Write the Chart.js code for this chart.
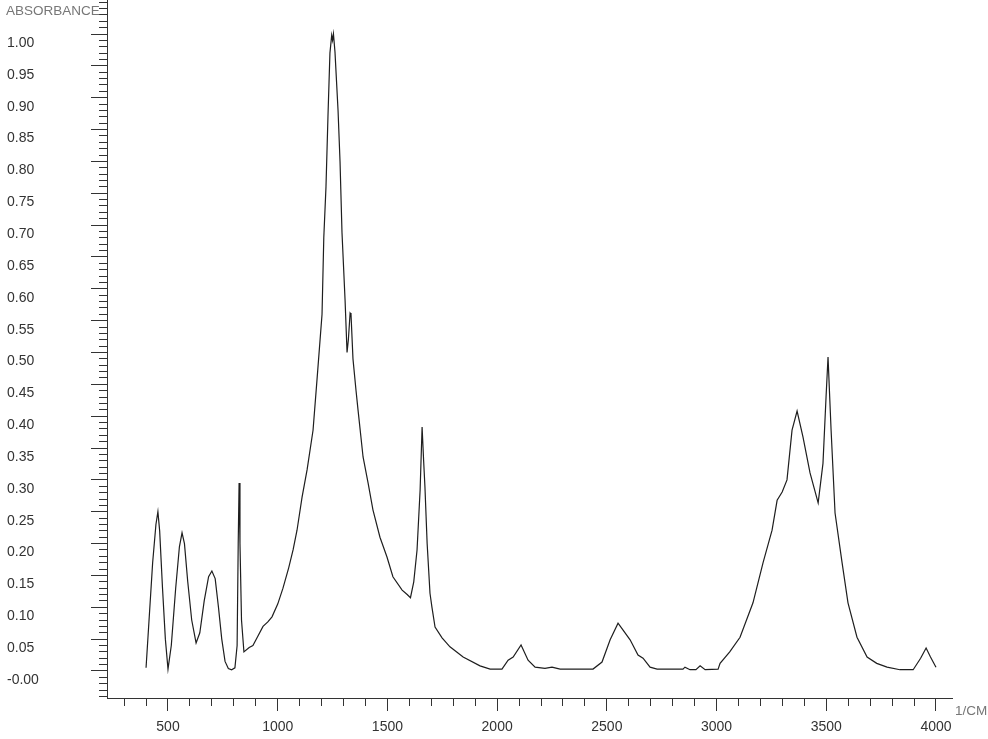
<!DOCTYPE html>
<html>
<head>
<meta charset="utf-8">
<script src="https://cdn.jsdelivr.net/npm/chart.js@4.4.1/dist/chart.umd.min.js"></script>
<style>
	html, body { margin: 0; padding: 0; background: #fff; }
	canvas { display: block; }
</style>
</head>
<body>
<canvas id="spectrum" width="988" height="739"></canvas>
<script>
var wavenumbers = [
	400, 410, 430, 445, 454, 462, 475, 488, 500, 515, 535, 552, 564, 575, 590, 608, 628, 645, 665, 685,
	700, 715, 730, 745, 760, 775, 790, 805, 815, 820, 824, 828, 835, 846, 870, 887, 910, 933, 955, 974,
	1000, 1024, 1050, 1070, 1088, 1111, 1134, 1161, 1179, 1202, 1210, 1220, 1229, 1238, 1246, 1250, 1254, 1261, 1275, 1284,
	1293, 1307, 1316, 1322, 1330, 1334, 1343, 1357, 1366, 1389, 1412, 1434, 1466, 1498, 1525, 1567, 1590, 1605, 1620, 1635,
	1649, 1658, 1665, 1671, 1681, 1694, 1703, 1717, 1749, 1785, 1845, 1922, 1968, 2022, 2050, 2073, 2109, 2141, 2173, 2218,
	2250, 2287, 2437, 2478, 2515, 2551, 2574, 2606, 2642, 2665, 2697, 2729, 2847, 2856, 2879, 2906, 2925, 2948, 3007, 3016,
	3060, 3107, 3166, 3212, 3253, 3276, 3299, 3321, 3344, 3367, 3394, 3426, 3463, 3485, 3499, 3508, 3522, 3540, 3572, 3599,
	3640, 3686, 3730, 3777, 3836, 3896, 3930, 3955, 3975, 4000
];
var absorbance = [
	0.005, 0.06, 0.17, 0.23, 0.25, 0.22, 0.13, 0.05, 0.003, 0.04, 0.13, 0.195, 0.217, 0.2, 0.14, 0.08, 0.044, 0.06, 0.11, 0.148,
	0.157, 0.145, 0.1, 0.05, 0.015, 0.004, 0.002, 0.005, 0.04, 0.2, 0.295, 0.2, 0.08, 0.03, 0.037, 0.04, 0.055, 0.07, 0.077, 0.085,
	0.105, 0.13, 0.162, 0.19, 0.221, 0.273, 0.316, 0.378, 0.457, 0.56, 0.68, 0.76, 0.87, 0.97, 0.998, 0.99, 1.0, 0.972, 0.88, 0.8,
	0.688, 0.582, 0.5, 0.52, 0.562, 0.56, 0.49, 0.44, 0.41, 0.336, 0.295, 0.253, 0.21, 0.179, 0.148, 0.127, 0.12, 0.115, 0.14, 0.19,
	0.284, 0.383, 0.33, 0.289, 0.2, 0.122, 0.1, 0.069, 0.052, 0.038, 0.022, 0.008, 0.003, 0.003, 0.017, 0.022, 0.041, 0.017, 0.006, 0.004,
	0.006, 0.003, 0.003, 0.014, 0.049, 0.075, 0.064, 0.049, 0.025, 0.02, 0.006, 0.003, 0.003, 0.006, 0.002, 0.002, 0.008, 0.002, 0.003, 0.012,
	0.03, 0.053, 0.107, 0.17, 0.221, 0.268, 0.281, 0.3, 0.378, 0.408, 0.367, 0.311, 0.264, 0.326, 0.43, 0.493, 0.378, 0.248, 0.17, 0.107,
	0.053, 0.022, 0.012, 0.006, 0.002, 0.002, 0.02, 0.036, 0.022, 0.006
];

var xMin = 222, xMax = 4073;
var yMin = -0.0424, yMax = 1.0534;
var xMajorStep = 500, xMinorStep = 100;
var yMajorStep = 0.05, yMinorStep = 0.01;
var yTopLabel = 1.0;
var yAxisLabel = 'ABSORBANCE';
var xAxisLabel = '1/CM';

var points = [];
for (var i = 0; i < wavenumbers.length; i++) {
	points.push({x: wavenumbers[i], y: absorbance[i]});
}

var fontFamily = '"Liberation Sans", Arial, sans-serif';
var axisColor = '#333';

// no extra room for the end labels, the plot area is set by hand
function noPadding(scale) {
	scale.paddingTop = 0;
	scale.paddingBottom = 0;
	scale.paddingLeft = 0;
	scale.paddingRight = 0;
}

var axisTitles = {
	id: 'axisTitles',
	afterDraw: function(chart) {
		var ctx = chart.ctx;
		ctx.save();
		ctx.fillStyle = '#777';
		ctx.font = '13.5px ' + fontFamily;
		ctx.textBaseline = 'alphabetic';
		ctx.textAlign = 'left';
		ctx.fillText(yAxisLabel, 6, 15);
		ctx.fillText(xAxisLabel, 955, 715);
		ctx.restore();
	}
};

new Chart(document.getElementById('spectrum'), {
	type: 'line',
	data: {
		datasets: [{
			data: points,
			borderColor: '#1e1e1e',
			borderWidth: 1.2,
			pointRadius: 0,
			tension: 0,
			fill: false,
			xAxisID: 'x',
			yAxisID: 'y'
		}]
	},
	options: {
		responsive: false,
		animation: false,
		devicePixelRatio: 1,
		layout: {padding: {left: 7, top: 0, right: 36, bottom: 0}},
		plugins: {legend: {display: false}, tooltip: {enabled: false}},
		scales: {
			x: {
				type: 'linear',
				position: 'bottom',
				weight: 1,
				min: xMin,
				max: xMax,
				border: {color: axisColor, width: 1},
				grid: {drawOnChartArea: false, tickLength: 13, tickColor: axisColor},
				ticks: {
					stepSize: xMinorStep,
					includeBounds: false,
					autoSkip: false,
					maxRotation: 0,
					padding: 8,
					color: axisColor,
					font: {family: fontFamily, size: 14},
					callback: function(value) { return String(value); }
				},
				afterBuildTicks: function(scale) {
					scale.ticks = scale.ticks.filter(function(t) {
						return Math.round(t.value) % xMajorStep === 0;
					});
				},
				afterFit: function(scale) { scale.height = 41; noPadding(scale); }
			},
			xMinor: {
				type: 'linear',
				position: 'bottom',
				weight: 0,
				min: xMin,
				max: xMax,
				border: {color: axisColor, width: 1},
				grid: {drawOnChartArea: false, tickLength: 8, tickColor: axisColor},
				ticks: {stepSize: xMinorStep, includeBounds: false, autoSkip: false, display: false},
				afterFit: function(scale) { scale.height = 0; noPadding(scale); }
			},
			y: {
				type: 'linear',
				position: 'left',
				weight: 1,
				min: yMin,
				max: yMax,
				border: {color: axisColor, width: 1},
				grid: {drawOnChartArea: false, tickLength: 16, tickColor: axisColor},
				ticks: {
					stepSize: yMajorStep,
					includeBounds: false,
					autoSkip: false,
					crossAlign: 'far',
					labelOffset: 9,
					color: axisColor,
					font: {family: fontFamily, size: 14},
					callback: function(value) {
						var v = Math.round(value * 100) / 100;
						return v === 0 ? '-0.00' : v.toFixed(2);
					}
				},
				afterBuildTicks: function(scale) {
					scale.ticks = scale.ticks.filter(function(t) {
						return t.value <= yTopLabel + 0.001;
					});
				},
				afterFit: function(scale) { scale.width = 100; noPadding(scale); }
			},
			yMinor: {
				type: 'linear',
				position: 'left',
				weight: 0,
				min: yMin,
				max: yMax,
				border: {color: axisColor, width: 1},
				grid: {drawOnChartArea: false, tickLength: 8, tickColor: axisColor},
				ticks: {stepSize: yMinorStep, includeBounds: false, autoSkip: false, display: false},
				afterFit: function(scale) { scale.width = 0; noPadding(scale); }
			}
		}
	},
	plugins: [axisTitles]
});
</script>
</body>
</html>
